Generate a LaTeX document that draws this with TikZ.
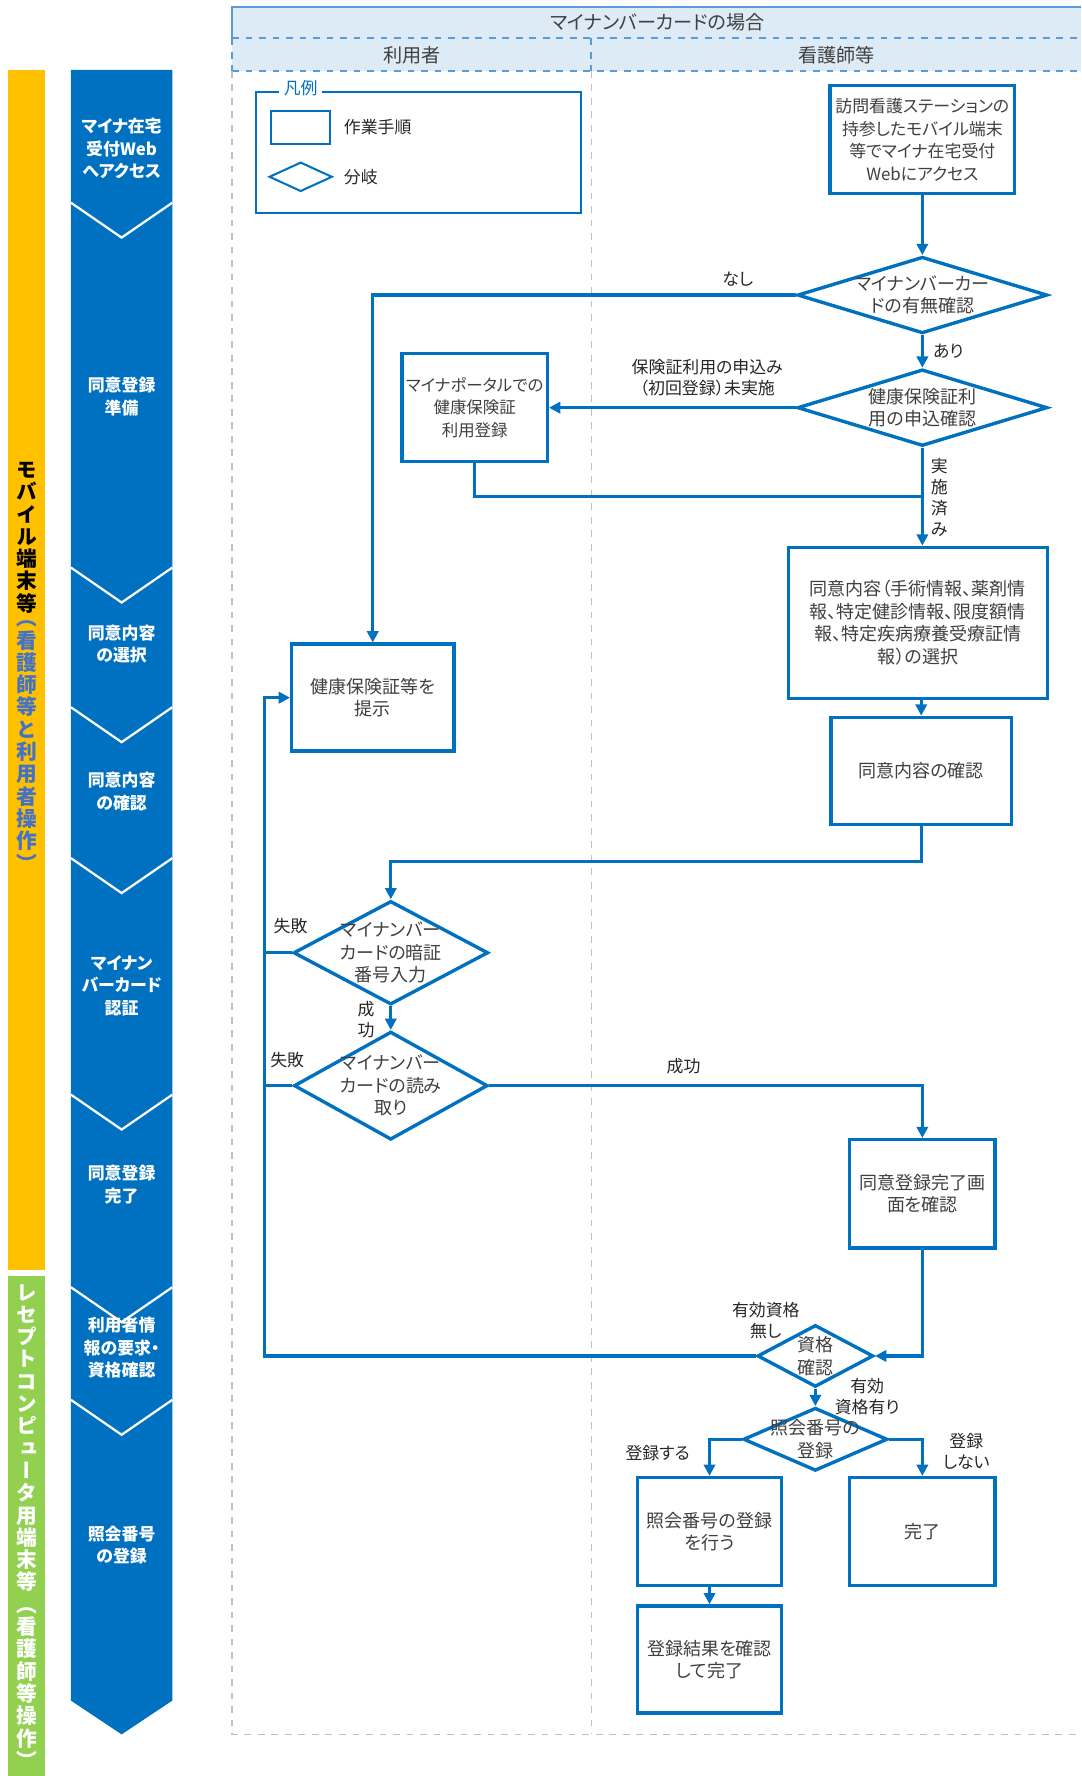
\documentclass[tikz,border=0pt]{standalone}
\usepackage{fontspec}
\setmainfont{Noto Sans CJK JP}[RawFeature=+palt]
\newfontfamily\vfont{Noto Sans CJK JP}[RawFeature=+vert]
\usetikzlibrary{arrows.meta,shapes.geometric,positioning}
\definecolor{flowblue}{HTML}{0070C0}
\definecolor{hdrfill}{HTML}{DDEBF7}
\definecolor{hdrline}{HTML}{5B9BD5}
\definecolor{laneline}{HTML}{BFBFBF}
\definecolor{baryellow}{HTML}{FFC000}
\definecolor{bargreen}{HTML}{92D050}
\definecolor{legblue}{HTML}{4472C4}
\definecolor{txtgray}{HTML}{404040}
\begin{document}
\begin{tikzpicture}[x=0.5pt,y=-0.5pt,
  stepbox/.style={draw=flowblue, line width=1.5pt, fill=white, align=center, inner sep=0pt, text=txtgray, font=\fontsize{8}{10}\selectfont},
  branch/.style={diamond, draw=flowblue, line width=1.5pt, fill=white, inner sep=0pt},
  dtext/.style={align=center, inner sep=0pt, text=txtgray, font=\fontsize{8}{10}\selectfont},
  flow/.style={draw=flowblue, line width=1.5pt, -{Triangle[length=5pt,width=5pt]}},
  link/.style={draw=flowblue, line width=1.5pt},
  lbl/.style={align=center, inner sep=0pt, text=black!85, font=\fontsize{7.5}{9.3}\selectfont},
  phase/.style={align=center, inner sep=0pt, text=white, font=\bfseries\fontsize{7.5}{10}\selectfont},
  bartext/.style={align=center, inner sep=0pt, font=\vfont\bfseries\fontsize{9.2}{9.9}\selectfont},
  hdr/.style={inner sep=0pt, text=txtgray, font=\fontsize{8.5}{10}\selectfont},
]
\useasboundingbox (0,0) rectangle (960,1577);
% side bars
\fill[baryellow] (7,62) rectangle (40,1128);
\fill[bargreen] (7,1133) rectangle (40,1580);
\node[bartext, anchor=north] (ybar1) at (23.5,410) {モ\\バ\\イ\\ル\\端\\末\\等};
\node[bartext, text=legblue, below=3pt of ybar1] (ybar2) {（\\看\\護\\師\\等\\と\\利\\用\\者\\操\\作\\）};
\node[bartext, text=white, anchor=north] (gbar) at (23.5,1140) {レ\\セ\\プ\\ト\\コ\\ン\\ピ\\ュ\\ー\\タ\\用\\端\\末\\等\\（\\看\\護\\師\\等\\操\\作\\）};
% phase column
\fill[flowblue] (63,62) -- (153,62) -- (153,1510) -- (108,1540) -- (63,1510) -- cycle;
\draw[white, line width=1pt] (63,180) -- (108,211) -- (153,180);
\draw[white, line width=1pt] (63,504) -- (108,535) -- (153,504);
\draw[white, line width=1pt] (63,628) -- (108,659) -- (153,628);
\draw[white, line width=1pt] (63,762) -- (108,793) -- (153,762);
\draw[white, line width=1pt] (63,972) -- (108,1003) -- (153,972);
\draw[white, line width=1pt] (63,1143) -- (108,1174) -- (153,1143);
\draw[white, line width=1pt] (63,1243) -- (108,1274) -- (153,1243);
\node[phase] (ph1) at (108,132) {マイナ在宅\\受付Web\\へアクセス};
\node[phase] (ph2) at (108,352) {同意登録\\準備};
\node[phase] (ph3) at (108,572) {同意内容\\の選択};
\node[phase] (ph4) at (108,703) {同意内容\\の確認};
\node[phase] (ph5) at (108,875) {マイナン\\バーカード\\認証};
\node[phase] (ph6) at (108,1052) {同意登録\\完了};
\node[phase] (ph7) at (108,1197) {利用者情\\報の要求・\\資格確認};
\node[phase] (ph8) at (108,1372) {照会番号\\の登録};
% header and lanes
\fill[hdrfill] (206,6) rectangle (960,63);
\draw[hdrline, line width=1pt] (206,34) -- (206,6) -- (960,6);
\draw[hdrline, line width=1pt, dashed] (206,34) -- (960,34);
\draw[hdrline, line width=1pt, dashed] (206,63) -- (960,63);
\draw[hdrline, line width=1pt, dashed] (206,34) -- (206,63);
\draw[hdrline, line width=1pt, dashed] (525,34) -- (525,63);
\node[hdr] (hmain) at (584,20) {マイナンバーカードの場合};
\node[hdr] (huser) at (366,49) {利用者};
\node[hdr] (hnurse) at (743,49) {看護師等};
\draw[laneline, line width=0.6pt, dashed] (206,63) -- (206,1540) -- (960,1540);
\draw[laneline, line width=0.6pt, dashed] (525,63) -- (525,1540);
% legend
\draw[flowblue, line width=0.9pt] (227,82) rectangle (516,189);
\node[fill=white, text=flowblue, inner sep=2pt, font=\fontsize{7.5}{9}\selectfont] (legt) at (267,78) {凡例};
\node[draw=flowblue, line width=0.9pt, minimum width=26pt, minimum height=14.5pt] (legbox) at (267,113.5) {};
\node[diamond, draw=flowblue, line width=0.9pt, inner sep=0pt, minimum width=28pt, minimum height=13pt] (legdia) at (267,157) {};
\node[lbl, anchor=west] (legtx1) at (305,113) {作業手順};
\node[lbl, anchor=west] (legtx2) at (305,157) {分岐};
% steps
\node[stepbox, minimum width=82pt, minimum height=48pt, font=\fontsize{7.5}{10}\selectfont] (a) at (819,124) {訪問看護ステーションの\\持参したモバイル端末\\等でマイナ在宅受付\\Webにアクセス};
\node[branch, minimum width=111pt, minimum height=34pt, label={[dtext]center:{マイナンバーカー\\ドの有無確認}}] (d1) at (819,262) {};
\node[branch, minimum width=111pt, minimum height=34pt, label={[dtext]center:{健康保険証利\\用の申込確認}}] (d2) at (819,362) {};
\node[stepbox, minimum width=64.5pt, minimum height=48pt, font=\fontsize{7.3}{10}\selectfont] (b) at (421.5,362) {マイナポータルでの\\健康保険証\\利用登録};
\node[stepbox, minimum width=115pt, minimum height=67pt] (c) at (815,553) {同意内容（手術情報、薬剤情\\報、特定健診情報、限度額情\\報、特定疾病療養受療証情\\報）の選択};
\node[stepbox, minimum width=80pt, minimum height=47.5pt] (e) at (818,684.5) {同意内容の確認};
\node[stepbox, minimum width=72pt, minimum height=47.5pt] (f) at (331,619.5) {健康保険証等を\\提示};
\node[branch, minimum width=86.5pt, minimum height=46pt, label={[dtext]center:{マイナンバー\\カードの暗証\\番号入力}}] (d3) at (347,846) {};
\node[branch, minimum width=86pt, minimum height=48pt, label={[dtext]center:{マイナンバー\\カードの読み\\取り}}] (d4) at (347,964) {};
\node[stepbox, minimum width=64.5pt, minimum height=48pt] (g) at (819,1060) {同意登録完了画\\面を確認};
\node[branch, minimum width=51.5pt, minimum height=27.5pt, label={[dtext]center:{資格\\確認}}] (d5) at (724,1204) {};
\node[branch, minimum width=64pt, minimum height=28pt, label={[dtext]center:{照会番号の\\登録}}] (d6) at (724,1278) {};
\node[stepbox, minimum width=64pt, minimum height=48pt] (h) at (630,1360) {照会番号の登録\\を行う};
\node[stepbox, minimum width=64.5pt, minimum height=48pt] (i) at (819,1360) {完了};
\node[stepbox, minimum width=64pt, minimum height=47.5pt] (j) at (630,1473.5) {登録結果を確認\\して完了};
% joints
\coordinate (bj) at (819,441);
\coordinate (ej) at (818,765);
\coordinate (lp) at (235,1204);
% connectors
\draw[flow] (a) -- (d1);
\draw[flow] (d1.west) -| (f.north);
\draw[flow] (d1) -- (d2);
\draw[flow] (d2.west) -- (b.east);
\draw[flow] (d2.south) -- (d2.south |- c.north);
\draw[link] (b.south) |- (bj);
\draw[flow] (c.south -| e.north) -- (e.north);
\draw[flow] (e.south) -- (ej) -| (d3.north);
\draw[flow] (d3) -- (d4);
\draw[link] (d3.west) -- (d3.west -| lp);
\draw[link] (d4.west) -- (d4.west -| lp);
\draw[flow] (d4.east) -| (g.north);
\draw[flow] (g.south) |- (d5.east);
\draw[flow] (d5.west) -- (lp) |- (f.west);
\draw[flow] (d5) -- (d6);
\draw[flow] (d6.west) -| (h.north);
\draw[flow] (d6.east) -| (i.north);
\draw[flow] (h) -- (j);
% branch labels
\node[lbl] (t1) at (655,248) {なし};
\node[lbl] (t2) at (842,312) {あり};
\node[lbl] (t3) at (628,335) {保険証利用の申込み\\（初回登録）未実施};
\node[lbl] (t4) at (834,442) {実\\施\\済\\み};
\node[lbl] (t5) at (258,822) {失敗};
\node[lbl] (t6) at (325,905) {成\\功};
\node[lbl] (t7) at (255,941) {失敗};
\node[lbl] (t8) at (607,947) {成功};
\node[lbl] (t9) at (680,1173) {有効資格\\無し};
\node[lbl] (t10) at (770,1240) {有効\\資格有り};
\node[lbl] (t11) at (584,1290) {登録する};
\node[lbl] (t12) at (858,1289) {登録\\しない};
\end{tikzpicture}
\end{document}
